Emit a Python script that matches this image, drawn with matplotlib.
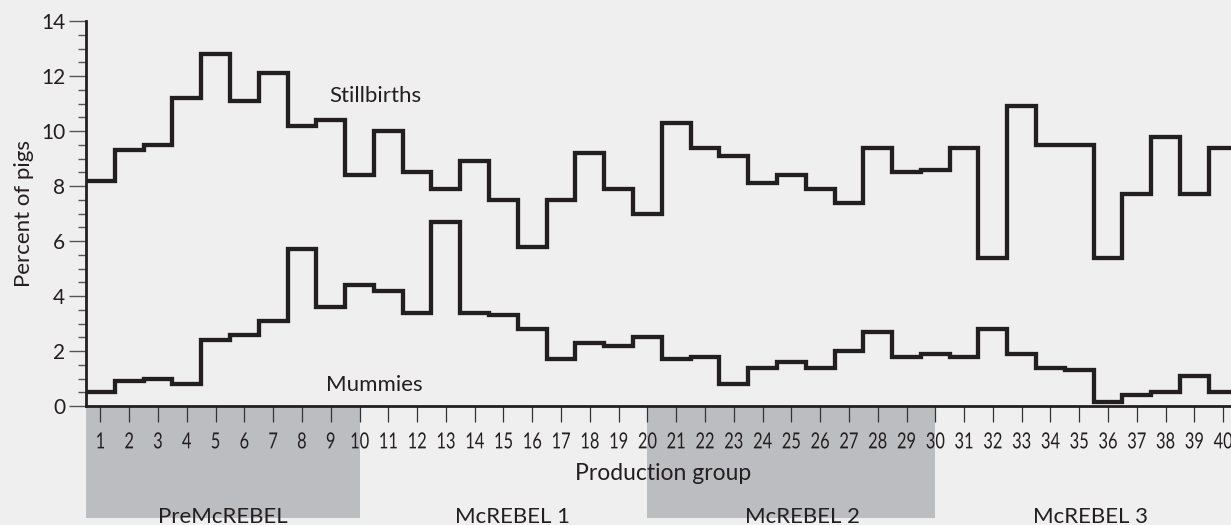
import numpy as np
import matplotlib
matplotlib.use("Agg")
import matplotlib.pyplot as plt
from matplotlib.transforms import blended_transform_factory, Affine2D
from matplotlib.patches import Rectangle
from matplotlib.patheffects import AbstractPathEffect

# ---- data ----
groups = list(range(1, 41))
stillbirths = [8.2, 9.3, 9.5, 11.2, 12.8, 11.1, 12.1, 10.2, 10.4, 8.4,
               10.0, 8.5, 7.9, 8.9, 7.5, 5.8, 7.5, 9.2, 7.9, 7.0,
               10.3, 9.4, 9.1, 8.1, 8.4, 7.9, 7.4, 9.4, 8.5, 8.6,
               9.4, 5.4, 10.9, 9.5, 9.5, 5.4, 7.7, 9.8, 7.7, 9.4]
mummies = [0.5, 0.9, 1.0, 0.8, 2.4, 2.6, 3.1, 5.7, 3.6, 4.4,
           4.2, 3.4, 6.7, 3.4, 3.3, 2.8, 1.7, 2.3, 2.2, 2.5,
           1.7, 1.8, 0.8, 1.4, 1.6, 1.4, 2.0, 2.7, 1.8, 1.9,
           1.8, 2.8, 1.9, 1.4, 1.3, 0.15, 0.4, 0.5, 1.1, 0.5]
phases = ["PreMcREBEL", "McREBEL 1", "McREBEL 2", "McREBEL 3"]
phase_spans = [(0.5, 10), (10, 20), (20, 30), (30, 40.5)]
phase_shaded = [True, False, True, False]
phase_label_x = [5.25, 15.3, 25.4, 35.4]
yticks = [0, 2, 4, 6, 8, 10, 12, 14]

# ---- style ----
BG = "#efefef"
INK = "#231f20"
SHADE = "#bcbdc1"
FONT = ["Lato", "DejaVu Sans"]


class HSqueeze(AbstractPathEffect):
    """Narrow the glyphs horizontally about their own centre (condensed look)."""

    def __init__(self, sx):
        super().__init__()
        self.sx = sx

    def draw_path(self, renderer, gc, tpath, affine, rgbFace=None):
        ext = tpath.get_extents()
        cx = 0.5 * (ext.x0 + ext.x1)
        t = Affine2D().translate(-cx, 0).scale(self.sx, 1.0).translate(cx, 0) + affine
        renderer.draw_path(gc, tpath, t, rgbFace)


W, H = 1231, 525
fig = plt.figure(figsize=(W / 100, H / 100), dpi=100, facecolor=BG)
x0, x1 = 86, 1231
y_top, y_bot = 21, 406
ax = fig.add_axes([x0 / W, (H - y_bot) / H, (x1 - x0) / W, (y_bot - y_top) / H])
ax.set_facecolor(BG)

xmax = 0.5 + (x1 - 85.6) / 28.8
ax.set_xlim(0.5, xmax)
ax.set_ylim(0, 14)

edges = np.arange(0.5, 41.5, 1.0)
for vals in (stillbirths, mummies):
    ax.stairs(vals, edges, baseline=None, edgecolor=INK, linewidth=3.1,
              joinstyle="miter", zorder=3, clip_on=False)

# shaded phase boxes below the axis
tr = blended_transform_factory(ax.transData, ax.transAxes)
box_bottom = (y_bot - 518) / (y_bot - y_top)
for (a, b), sh in zip(phase_spans, phase_shaded):
    if sh:
        ax.add_patch(Rectangle((a, box_bottom), b - a, -box_bottom, transform=tr,
                               facecolor=SHADE, edgecolor="none", clip_on=False, zorder=0))
lab_y = (y_bot - 523) / (y_bot - y_top)
for name, xc in zip(phases, phase_label_x):
    ax.text(xc, lab_y, name, transform=tr, ha="center", va="baseline",
            fontsize=16, family=FONT, color=INK)

ax.text(20.55, (y_bot - 480) / (y_bot - y_top), "Production group", transform=tr,
        ha="center", va="baseline", fontsize=16.5, family=FONT, color=INK)

ax.text(10.55, 11.05, "Stillbirths", ha="center", va="baseline",
        fontsize=16, family=FONT, color=INK)
ax.text(10.53, 0.55, "Mummies", ha="center", va="baseline",
        fontsize=16, family=FONT, color=INK)

# spines
for s in ("top", "right"):
    ax.spines[s].set_visible(False)
for s in ("left", "bottom"):
    ax.spines[s].set_linewidth(2.0)
    ax.spines[s].set_color(INK)
    ax.spines[s].set_zorder(4)

ax.set_yticks(yticks)
ax.set_yticks(np.arange(0, 14.01, 0.5), minor=True)
ax.set_yticklabels([str(v) for v in yticks], fontsize=15, family=FONT, color=INK)
ax.tick_params(axis="y", which="major", length=12, width=1.0, color="#555555", pad=3)
ax.tick_params(axis="y", which="minor", length=6, width=1.0, color="#555555")

ax.set_xticks(groups)
ax.set_xticklabels([str(g) for g in groups], fontsize=16, family=FONT, color=INK)
ax.tick_params(axis="x", which="major", length=11.5, width=0.9, color="#333333",
               direction="out", pad=7.5)
ax.tick_params(axis="x", which="minor", length=0)
for tk in ax.xaxis.get_major_ticks():
    tk.label1.set_path_effects([HSqueeze(0.74)])

ax.set_ylabel("Percent of pigs", fontsize=16, family=FONT, color=INK, labelpad=5)

fig.savefig("out.png", dpi=100, facecolor=BG)
